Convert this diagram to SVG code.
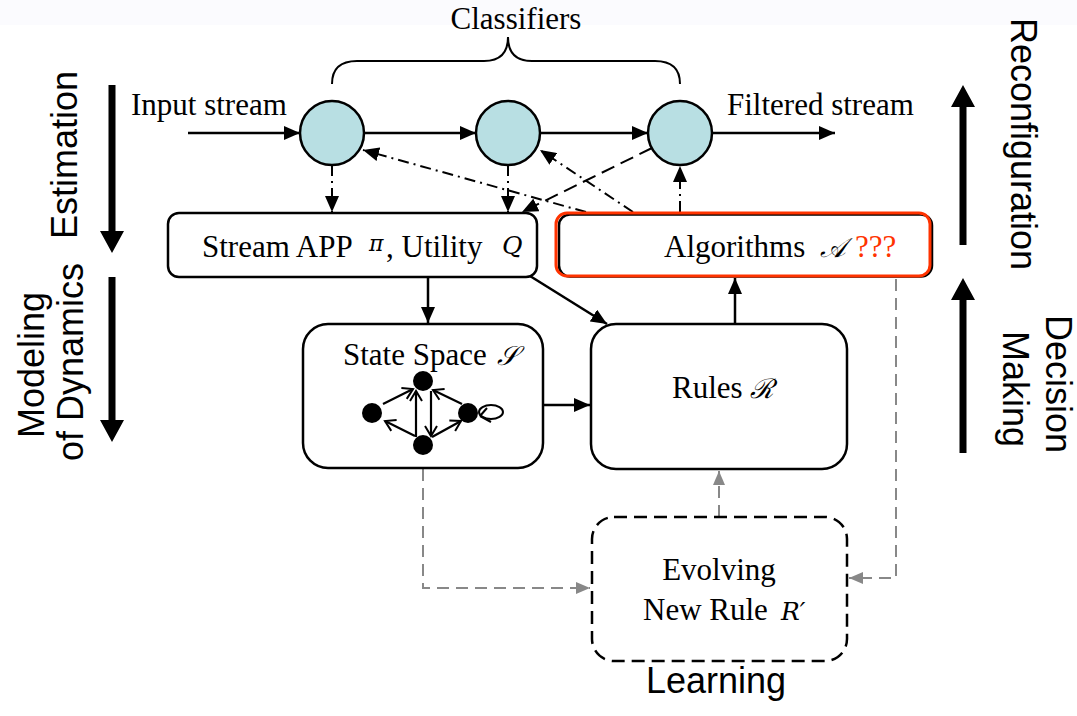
<svg xmlns="http://www.w3.org/2000/svg" width="1077" height="716" viewBox="0 0 1077 716">
<defs>
<style>
.serif{font-family:"Liberation Serif","Times New Roman",serif;font-size:31px;fill:#000}
.sans{font-family:"Liberation Sans",Arial,sans-serif;font-size:36px;fill:#000}
.box{fill:#fff;stroke:#000;stroke-width:2.5}
.cls{fill:#b8dfe3;stroke:#000;stroke-width:2.5}
.solid{fill:none;stroke:#000;stroke-width:2.5}
.dashdot{fill:none;stroke:#000;stroke-width:2;stroke-dasharray:11 5 2 5}
.dash{fill:none;stroke:#000;stroke-width:2;stroke-dasharray:14 7}
.gdash{fill:none;stroke:#888;stroke-width:2;stroke-dasharray:12 7}
.mini{fill:none;stroke:#000;stroke-width:2.2}
.math{font-family:"DejaVu Serif","Liberation Serif",serif;font-style:italic}
</style>
<marker id="ah" markerUnits="userSpaceOnUse" markerWidth="16" markerHeight="14" refX="16" refY="7" orient="auto"><path d="M0,0 L16,7 L0,14 z" fill="#000"/></marker>
<marker id="ahg" markerUnits="userSpaceOnUse" markerWidth="14" markerHeight="12" refX="14" refY="6" orient="auto"><path d="M0,0 L14,6 L0,12 z" fill="#888"/></marker>
<marker id="vee" markerUnits="userSpaceOnUse" markerWidth="14" markerHeight="14" refX="11" refY="7" orient="auto" overflow="visible"><path d="M1,1 L11,7 L1,13" fill="none" stroke="#000" stroke-width="2"/></marker>
</defs>
<rect x="0" y="0" width="1077" height="716" fill="#fff"/>
<rect x="0" y="0" width="1077" height="25" fill="#fbfbfe"/>

<!-- side annotations -->
<g id="side-annotations">
<path d="M108.5,85 H115.5 V231 H124 L112,253 L100,231 H108.5 Z" fill="#000"/>
<path d="M108.5,277 H115.5 V420 H124 L112,442 L100,420 H108.5 Z" fill="#000"/>
<path d="M959.5,245 H966.5 V107 H975 L963,85 L951,107 H959.5 Z" fill="#000"/>
<path d="M959.5,453 H966.5 V300 H975 L963,278 L951,300 H959.5 Z" fill="#000"/>
<text class="sans" text-anchor="middle" transform="translate(77,155) rotate(-90)">Estimation</text>
<text class="sans" text-anchor="middle" transform="translate(44,365) rotate(-90)">Modeling</text>
<text class="sans" text-anchor="middle" transform="translate(83,362) rotate(-90)">of Dynamics</text>
<text class="sans" text-anchor="middle" transform="translate(1011,144) rotate(90)">Reconfiguration</text>
<text class="sans" text-anchor="middle" transform="translate(1046,384) rotate(90)">Decision</text>
<text class="sans" text-anchor="middle" transform="translate(1003,389) rotate(90)">Making</text>
<text class="sans" x="716" y="693" text-anchor="middle">Learning</text>
</g>

<!-- classifiers brace -->
<g id="classifiers-label">
<path d="M332,84 Q332,61 357,61 L484,61 Q508,61 508,37 Q508,61 532,61 L655,61 Q680,61 680,84" fill="none" stroke="#000" stroke-width="2"/>
<text class="serif" x="516" y="29" text-anchor="middle">Classifiers</text>
<text class="serif" x="131" y="115" font-size="31.5">Input stream</text>
<text class="serif" x="727" y="115">Filtered stream</text>
</g>

<!-- connectors -->
<g id="connectors">
<line class="solid" x1="188" y1="133" x2="300" y2="133" marker-end="url(#ah)"/>
<line class="solid" x1="364" y1="133" x2="476" y2="133" marker-end="url(#ah)"/>
<line class="solid" x1="540" y1="133" x2="648" y2="133" marker-end="url(#ah)"/>
<line class="solid" x1="712" y1="133" x2="835" y2="133" marker-end="url(#ah)"/>
<line class="dashdot" x1="332" y1="165" x2="332" y2="212" marker-end="url(#ah)"/>
<line class="dashdot" x1="508" y1="165" x2="508" y2="212" marker-end="url(#ah)"/>
<line class="dashdot" x1="586" y1="212" x2="363" y2="150" marker-end="url(#ah)"/>
<line class="dashdot" x1="633" y1="212" x2="540" y2="150" marker-end="url(#ah)"/>
<line class="dash" x1="652" y1="148" x2="522" y2="212" marker-end="url(#ah)"/>
<line class="dashdot" x1="680" y1="212" x2="680" y2="166" marker-end="url(#ah)"/>
<line class="solid" x1="428" y1="277" x2="428" y2="323" marker-end="url(#ah)"/>
<line class="solid" x1="530" y1="276" x2="607" y2="324" marker-end="url(#ah)"/>
<line class="solid" x1="543" y1="405" x2="590" y2="405" marker-end="url(#ah)"/>
<line class="solid" x1="735" y1="324" x2="735" y2="278" marker-end="url(#ah)"/>
<polyline class="gdash" points="423,469 423,588 590,588" marker-end="url(#ahg)"/>
<polyline class="gdash" points="896,279 896,578 849,578" marker-end="url(#ahg)"/>
<line class="gdash" x1="719" y1="517" x2="719" y2="471" marker-end="url(#ahg)"/>
</g>

<!-- classifier nodes -->
<g id="classifier-1"><circle class="cls" cx="332" cy="133" r="32"/></g>
<g id="classifier-2"><circle class="cls" cx="508" cy="133" r="32"/></g>
<g id="classifier-3"><circle class="cls" cx="680" cy="133" r="32"/></g>

<g id="stream-app">
<rect class="box" x="168" y="213" width="369" height="64" rx="11"/>
<text class="serif" y="257" font-size="31.5"><tspan x="202">Stream APP</tspan><tspan x="369" y="251" class="math" font-size="22">π</tspan><tspan x="386" y="257">, Utility</tspan><tspan x="502" y="254" class="math" font-size="25">Q</tspan></text>
</g>

<g id="algorithms">
<rect x="559" y="214.5" width="373" height="62" rx="11" fill="#fff" stroke="#000" stroke-width="2.5"/>
<rect x="556" y="213" width="374" height="63" rx="11" fill="none" stroke="#ff3300" stroke-width="3"/>
<text class="serif" y="257"><tspan x="664">Algorithms</tspan><tspan x="820" class="math" font-size="27">𝒜</tspan><tspan x="855" fill="#ff3300">???</tspan></text>
</g>

<g id="state-space">
<rect class="box" x="303" y="324" width="240" height="144" rx="25"/>
<text class="serif" y="365" font-size="32.5"><tspan x="343">State Space</tspan><tspan x="497" class="math" font-size="27">𝒮</tspan></text>
<g id="state-graph">
<line class="mini" x1="383" y1="404" x2="413" y2="389" marker-end="url(#vee)"/>
<line class="mini" x1="416" y1="437" x2="416" y2="391" marker-end="url(#vee)"/>
<line class="mini" x1="431" y1="391" x2="431" y2="436" marker-end="url(#vee)"/>
<line class="mini" x1="462" y1="404" x2="433" y2="390" marker-end="url(#vee)"/>
<line class="mini" x1="415" y1="436" x2="385" y2="421" marker-end="url(#vee)"/>
<line class="mini" x1="432" y1="437" x2="461" y2="421" marker-end="url(#vee)"/>
<ellipse cx="491" cy="412" rx="12" ry="7" fill="none" stroke="#000" stroke-width="2"/>
<path d="M480,416 L491,422 M480,416 L487,408" fill="none" stroke="#000" stroke-width="2"/>
<circle cx="423" cy="381" r="10" fill="#000"/>
<circle cx="372" cy="413" r="10" fill="#000"/>
<circle cx="468" cy="413" r="10" fill="#000"/>
<circle cx="423" cy="445" r="10" fill="#000"/>
</g>
</g>

<g id="rules">
<rect class="box" x="591" y="324" width="256" height="145" rx="25"/>
<text class="serif" y="398"><tspan x="672">Rules</tspan><tspan x="750" class="math" font-size="27">ℛ</tspan></text>
</g>

<g id="learning">
<rect x="592" y="517" width="255" height="144" rx="22" fill="#fff" stroke="#000" stroke-width="2.5" stroke-dasharray="13 7"/>
<text class="serif" x="719" y="580" text-anchor="middle">Evolving</text>
<text class="serif" y="620"><tspan x="643">New Rule</tspan><tspan x="781" class="math" font-size="25">R′</tspan></text>
</g>
</svg>
